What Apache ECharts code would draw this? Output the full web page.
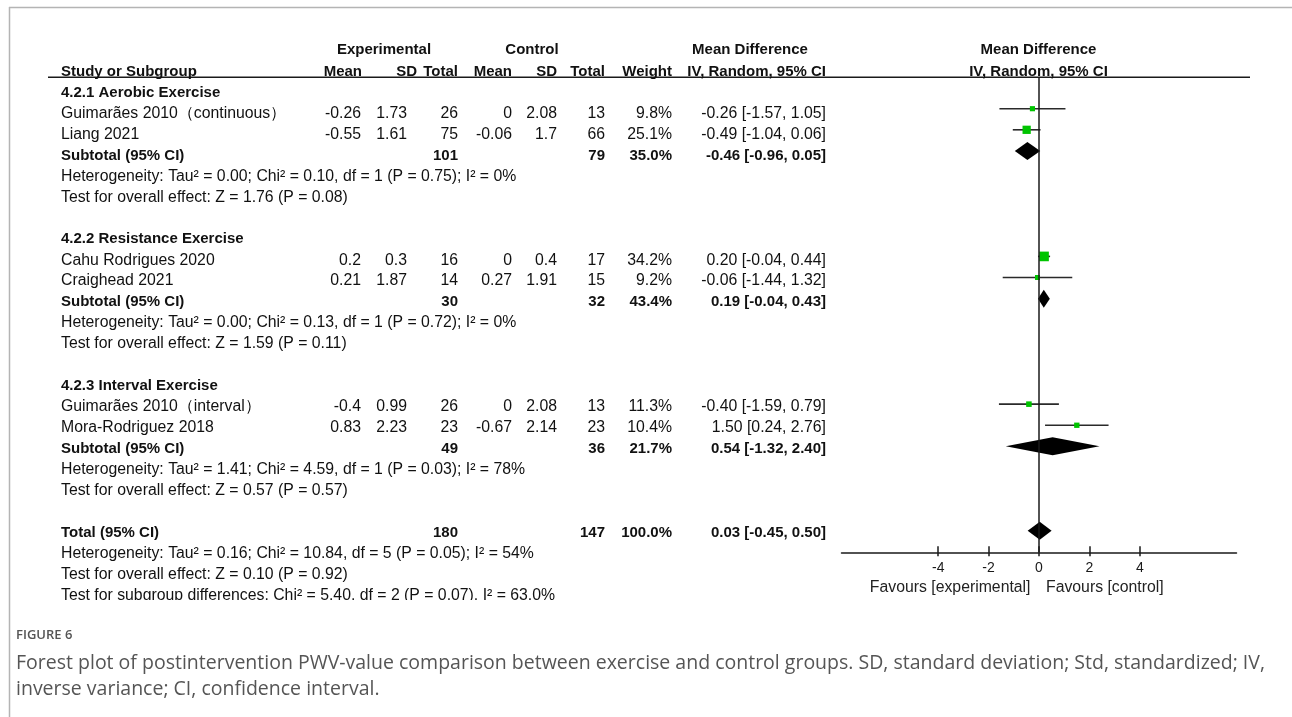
<!DOCTYPE html>
<html>
<head>
<meta charset="utf-8">
<script src="https://cdn.jsdelivr.net/npm/echarts@6/dist/echarts.min.js"></script>
<style>
html, body { margin: 0; padding: 0; background: #fff; }
#chart { width: 1292px; height: 717px; }
</style>
</head>
<body>
<div id="chart"></div>
<script>
// ---- Study-level data ----
const studyNames = [
  'Guimarães 2010（continuous）',
  'Liang 2021',
  'Cahu Rodrigues 2020',
  'Craighead 2021',
  'Guimarães 2010（interval）',
  'Mora-Rodriguez 2018'
];
const studyGroup = [0, 0, 1, 1, 2, 2];
const expMean = [-0.26, -0.55, 0.2, 0.21, -0.4, 0.83];
const expSD   = [1.73, 1.61, 0.3, 1.87, 0.99, 2.23];
const expN    = [26, 75, 16, 14, 26, 23];
const ctlMean = [0, -0.06, 0, 0.27, 0, -0.67];
const ctlSD   = [2.08, 1.7, 0.4, 1.91, 2.08, 2.14];
const ctlN    = [13, 66, 17, 15, 13, 23];
const studyWeight = [9.8, 25.1, 34.2, 9.2, 11.3, 10.4];
const studyMD = [-0.26, -0.49, 0.20, -0.06, -0.40, 1.50];
const studyLo = [-1.57, -1.04, -0.04, -1.44, -1.59, 0.24];
const studyHi = [1.05, 0.06, 0.44, 1.32, 0.79, 2.76];

// ---- Subgroup data ----
const groupNames = ['4.2.1 Aerobic Exercise', '4.2.2 Resistance Exercise', '4.2.3 Interval Exercise'];
const groupExpN = [101, 30, 49];
const groupCtlN = [79, 32, 36];
const groupWeight = [35.0, 43.4, 21.7];
const groupMD = [-0.46, 0.19, 0.54];
const groupLo = [-0.96, -0.04, -1.32];
const groupHi = [0.05, 0.43, 2.40];
const groupTau2 = [0.00, 0.00, 1.41];
const groupChi2 = [0.10, 0.13, 4.59];
const groupDf = [1, 1, 1];
const groupHetP = [0.75, 0.72, 0.03];
const groupI2 = [0, 0, 78];
const groupZ = [1.76, 1.59, 0.57];
const groupZP = [0.08, 0.11, 0.57];

// ---- Overall ----
const totalExpN = 180;
const totalCtlN = 147;
const totalWeight = 100.0;
const totalMD = 0.03, totalLo = -0.45, totalHi = 0.50;
const totalTau2 = 0.16, totalChi2 = 10.84, totalDf = 5, totalHetP = 0.05, totalI2 = 54;
const totalZ = 0.10, totalZP = 0.92;
const subDiffChi2 = 5.40, subDiffDf = 2, subDiffP = 0.07, subDiffI2 = 63.0;

// ---- Axis ticks of the forest panel ----
const forestTicks = [-4, -2, 0, 2, 4];
const favourLeft = 'Favours [experimental]';
const favourRight = 'Favours [control]';

// ---- Layout: column anchors (table grid uses pixel-like x units) ----
const COL = {
  name: 61, expMean: 361, expSD: 407, expN: 458, ctlMean: 512,
  ctlSD: 557, ctlN: 605, weight: 672, ci: 826
};
const HEAD = {
  expMean: 362, expSD: 417, expN: 458, ctlMean: 512, ctlSD: 557,
  ctlN: 605, weight: 672, ci: 826, expGroup: 384, ctlGroup: 532,
  mdGroup: 750, plot: 1038.5
};
const TABLE_FONT = '"Liberation Sans", Arial, sans-serif';
const BOLD_SIZE = 15;
const REG_SIZE = 15.8;
const CAPTION_FONT = '"Open Sans", sans-serif';

const f2 = v => v.toFixed(2);
const ciText = (m, l, h) => `${f2(m)} [${f2(l)}, ${f2(h)}]`;
const rowOfStudy = i => studyGroup[i] * 7 + 1 + studyNames.filter((_, j) => j < i && studyGroup[j] === studyGroup[i]).length;

// ---- Build table cells ----
const cells = [];
function cell(x, row, text, align, bold) { cells.push({ x, row, text, align, bold }); }

// header
cell(HEAD.expGroup, -2.05, 'Experimental', 'center', true);
cell(HEAD.ctlGroup, -2.05, 'Control', 'center', true);
cell(HEAD.mdGroup, -2.05, 'Mean Difference', 'center', true);
cell(HEAD.plot, -2.05, 'Mean Difference', 'center', true);
cell(COL.name, -1, 'Study or Subgroup', 'left', true);
cell(HEAD.expMean, -1, 'Mean', 'right', true);
cell(HEAD.expSD, -1, 'SD', 'right', true);
cell(HEAD.expN, -1, 'Total', 'right', true);
cell(HEAD.ctlMean, -1, 'Mean', 'right', true);
cell(HEAD.ctlSD, -1, 'SD', 'right', true);
cell(HEAD.ctlN, -1, 'Total', 'right', true);
cell(HEAD.weight, -1, 'Weight', 'right', true);
cell(HEAD.ci, -1, 'IV, Random, 95% CI', 'right', true);
cell(HEAD.plot, -1, 'IV, Random, 95% CI', 'center', true);

groupNames.forEach((g, k) => {
  const base = k * 7;
  cell(COL.name, base, g, 'left', true);
  cell(COL.name, base + 3, 'Subtotal (95% CI)', 'left', true);
  cell(COL.expN, base + 3, String(groupExpN[k]), 'right', true);
  cell(COL.ctlN, base + 3, String(groupCtlN[k]), 'right', true);
  cell(COL.weight, base + 3, groupWeight[k].toFixed(1) + '%', 'right', true);
  cell(COL.ci, base + 3, ciText(groupMD[k], groupLo[k], groupHi[k]), 'right', true);
  cell(COL.name, base + 4,
    `Heterogeneity: Tau² = ${f2(groupTau2[k])}; Chi² = ${f2(groupChi2[k])}, df = ${groupDf[k]} (P = ${f2(groupHetP[k])}); I² = ${groupI2[k]}%`,
    'left', false);
  cell(COL.name, base + 5, `Test for overall effect: Z = ${f2(groupZ[k])} (P = ${f2(groupZP[k])})`, 'left', false);
});

studyNames.forEach((n, i) => {
  const r = rowOfStudy(i);
  cell(COL.name, r, n, 'left', false);
  cell(COL.expMean, r, String(expMean[i]), 'right', false);
  cell(COL.expSD, r, String(expSD[i]), 'right', false);
  cell(COL.expN, r, String(expN[i]), 'right', false);
  cell(COL.ctlMean, r, String(ctlMean[i]), 'right', false);
  cell(COL.ctlSD, r, String(ctlSD[i]), 'right', false);
  cell(COL.ctlN, r, String(ctlN[i]), 'right', false);
  cell(COL.weight, r, studyWeight[i].toFixed(1) + '%', 'right', false);
  cell(COL.ci, r, ciText(studyMD[i], studyLo[i], studyHi[i]), 'right', false);
});

const TOTAL_ROW = 21;
cell(COL.name, TOTAL_ROW, 'Total (95% CI)', 'left', true);
cell(COL.expN, TOTAL_ROW, String(totalExpN), 'right', true);
cell(COL.ctlN, TOTAL_ROW, String(totalCtlN), 'right', true);
cell(COL.weight, TOTAL_ROW, totalWeight.toFixed(1) + '%', 'right', true);
cell(COL.ci, TOTAL_ROW, ciText(totalMD, totalLo, totalHi), 'right', true);
cell(COL.name, TOTAL_ROW + 1,
  `Heterogeneity: Tau² = ${f2(totalTau2)}; Chi² = ${f2(totalChi2)}, df = ${totalDf} (P = ${f2(totalHetP)}); I² = ${totalI2}%`,
  'left', false);
cell(COL.name, TOTAL_ROW + 2, `Test for overall effect: Z = ${f2(totalZ)} (P = ${f2(totalZP)})`, 'left', false);
cell(COL.name, TOTAL_ROW + 3,
  `Test for subgroup differences: Chi² = ${f2(subDiffChi2)}, df = ${subDiffDf} (P = ${f2(subDiffP)}), I² = ${subDiffI2.toFixed(1)}%`,
  'left', false);

// ---- Forest marks ----
const studyData = studyNames.map((_, i) => [studyMD[i], rowOfStudy(i), studyLo[i], studyHi[i], studyWeight[i]]);
const diamondData = groupNames.map((_, k) => [groupMD[k], k * 7 + 3, groupLo[k], groupHi[k]])
  .concat([[totalMD, TOTAL_ROW, totalLo, totalHi]]);

const chart = echarts.init(document.getElementById('chart'), null, { renderer: 'canvas' });

chart.setOption({
  backgroundColor: '#ffffff',
  animation: false,
  grid: [
    { left: 0, top: 0, width: 1292, height: 600 },
    { left: 841.5, top: 77, width: 395, height: 475.3 }
  ],
  xAxis: [
    { gridIndex: 0, type: 'value', min: 0, max: 1292, show: false },
    {
      gridIndex: 1, type: 'value', min: -7.837, max: 7.837, position: 'bottom',
      splitLine: { show: false },
      axisLine: { show: true, onZero: false, lineStyle: { color: '#1a1a1a', width: 1.5 } },
      axisTick: { show: true, customValues: forestTicks, length: 4, lineStyle: { color: '#1a1a1a', width: 1.5 } },
      axisLabel: { show: true, customValues: forestTicks, margin: 9, color: '#1a1a1a', fontSize: 14, fontFamily: TABLE_FONT }
    },
    {
      gridIndex: 1, type: 'value', min: -7.837, max: 7.837, position: 'bottom',
      splitLine: { show: false },
      axisLine: { show: false, onZero: false },
      axisTick: { show: true, inside: true, customValues: forestTicks, length: 6, lineStyle: { color: '#1a1a1a', width: 1.5 } },
      axisLabel: { show: false }
    }
  ],
  yAxis: [
    { gridIndex: 0, type: 'value', inverse: true, min: -4.413, max: 24.213, show: false },
    { gridIndex: 1, type: 'value', inverse: true, min: -0.502, max: 22.02, show: false }
  ],
  graphic: [
    // page frame
    { type: 'line', silent: true, shape: { x1: 9, y1: 7.5, x2: 1292, y2: 7.5 }, style: { stroke: '#b4b4b4', lineWidth: 1.5 } },
    { type: 'line', silent: true, shape: { x1: 9.5, y1: 7, x2: 9.5, y2: 717 }, style: { stroke: '#b4b4b4', lineWidth: 1.5 } },
    // header rule
    { type: 'line', silent: true, shape: { x1: 48, y1: 77.3, x2: 1250, y2: 77.3 }, style: { stroke: '#1a1a1a', lineWidth: 1.5 } },
    // figure caption
    { type: 'text', left: 16, top: 629, style: { text: 'FIGURE 6', font: '600 13px ' + CAPTION_FONT, fill: '#555' } },
    { type: 'text', left: 16, top: 653, style: { text: 'Forest plot of postintervention PWV-value comparison between exercise and control groups. SD, standard deviation; Std, standardized; IV,', font: '19.5px ' + CAPTION_FONT, fill: '#555' } },
    { type: 'text', left: 16, top: 679, style: { text: 'inverse variance; CI, confidence interval.', font: '19.5px ' + CAPTION_FONT, fill: '#555' } }
  ],
  series: [
    {
      // table text
      type: 'custom',
      xAxisIndex: 0, yAxisIndex: 0,
      clip: true,
      silent: true,
      data: cells.map(c => [c.x, c.row]),
      renderItem: (params, api) => {
        const c = cells[params.dataIndex];
        const p = api.coord([c.x, c.row]);
        return {
          type: 'text',
          x: p[0], y: p[1],
          style: {
            text: c.text,
            textAlign: c.align,
            textVerticalAlign: 'middle',
            font: c.bold ? `bold ${BOLD_SIZE}px ${TABLE_FONT}` : `${REG_SIZE}px ${TABLE_FONT}`,
            fill: '#111'
          }
        };
      }
    },
    {
      // favour labels under the forest axis
      type: 'custom',
      xAxisIndex: 0, yAxisIndex: 0,
      silent: true,
      data: [[1030.5, 23.6], [1046, 23.6]],
      renderItem: (params, api) => {
        const p = api.coord([api.value(0), api.value(1)]);
        const left = params.dataIndex === 0;
        return {
          type: 'text', x: p[0], y: p[1],
          style: {
            text: left ? favourLeft : favourRight,
            textAlign: left ? 'right' : 'left',
            textVerticalAlign: 'middle',
            font: `${REG_SIZE}px ${TABLE_FONT}`,
            fill: '#222'
          }
        };
      }
    },
    {
      // zero reference line
      type: 'scatter',
      xAxisIndex: 1, yAxisIndex: 1,
      data: [],
      markLine: {
        silent: true, symbol: 'none', label: { show: false },
        lineStyle: { color: '#1a1a1a', width: 1.5, type: 'solid' },
        data: [{ xAxis: 0 }]
      }
    },
    {
      // individual studies: CI whiskers with weighted squares
      type: 'custom',
      xAxisIndex: 1, yAxisIndex: 1,
      silent: true,
      data: studyData,
      renderItem: (params, api) => {
        const md = api.value(0), row = api.value(1), lo = api.value(2), hi = api.value(3), w = api.value(4);
        const pl = api.coord([lo, row]);
        const ph = api.coord([hi, row]);
        const pm = api.coord([md, row]);
        const side = 1.65 * Math.sqrt(w);
        return {
          type: 'group',
          children: [
            { type: 'line', shape: { x1: pl[0], y1: pl[1], x2: ph[0], y2: ph[1] }, style: { stroke: '#2a2a2a', lineWidth: 1.6 } },
            { type: 'rect', shape: { x: pm[0] - side / 2, y: pm[1] - side / 2, width: side, height: side }, style: { fill: '#00c400' } }
          ]
        };
      }
    },
    {
      // pooled estimates: diamonds
      type: 'custom',
      xAxisIndex: 1, yAxisIndex: 1,
      silent: true,
      data: diamondData,
      renderItem: (params, api) => {
        const md = api.value(0), row = api.value(1), lo = api.value(2), hi = api.value(3);
        const pl = api.coord([lo, row]);
        const ph = api.coord([hi, row]);
        const pm = api.coord([md, row]);
        const h = 9;
        return {
          type: 'polygon',
          shape: { points: [[pl[0], pm[1]], [pm[0], pm[1] - h], [ph[0], pm[1]], [pm[0], pm[1] + h]] },
          style: { fill: '#000' }
        };
      }
    }
  ]
});
</script>
</body>
</html>
